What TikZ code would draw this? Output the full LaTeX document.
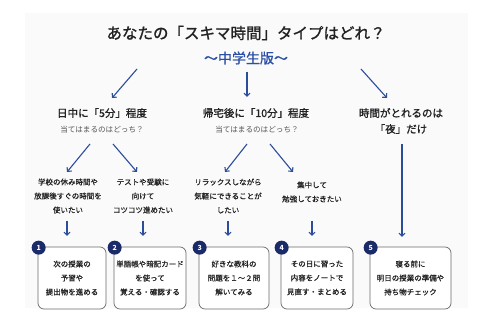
\documentclass[tikz,border=0pt]{standalone}
\usepackage{fontspec}
\setmainfont{Noto Sans CJK JP}
\newfontfamily\medfont[FakeBold=0.7]{Noto Sans CJK JP}
\newfontfamily\semifont[FakeBold=1.3]{Noto Sans CJK JP}
\usetikzlibrary{arrows.meta}
\definecolor{arrowblue}{HTML}{2C4C9C}
\definecolor{subblue}{HTML}{2B4FA6}
\definecolor{navy}{HTML}{1B2A68}
\definecolor{txt}{HTML}{222222}
\definecolor{graytxt}{HTML}{555555}
\definecolor{panelbg}{HTML}{FAFAFA}
\definecolor{boxline}{HTML}{6A6A6A}
\begin{document}
\begin{tikzpicture}[x=1pt,y=-1pt,
  arr/.style={draw=arrowblue, line width=1.1pt, -{Straight Barb[length=3pt,width=6pt]}},
  head/.style={text=txt, font=\semifont\fontsize{10.5}{13}\selectfont, inner sep=0pt},
  subq/.style={text=graytxt, font=\fontsize{7.6}{10}\selectfont, inner sep=0pt},
  opt/.style={text=txt, align=center, font=\medfont\fontsize{7.5}{14}\selectfont, inner sep=0pt},
  resbox/.style={draw=boxline, line width=0.7pt, fill=white, rounded corners=6pt, align=center,
     text=txt, font=\medfont\fontsize{7.5}{14}\selectfont, minimum height=62pt, inner sep=0pt},
  num/.style={circle, fill=navy, text=white, font=\bfseries\fontsize{7}{8}\selectfont, minimum size=14pt, inner sep=0pt}
]
\useasboundingbox (0,0) rectangle (483,323);
\fill[panelbg] (25,13) rectangle (468,308);

% title
\node[text=txt, font=\semifont\fontsize{15.5}{18}\selectfont, inner sep=0pt] (title) at (246,33) {あなたの「スキマ時間」タイプはどれ？};
\node[text=subblue, font=\medfont\fontsize{14}{16}\selectfont, inner sep=0pt] (subtitle) at (246,58) {～中学生版～};

% headings
\node[head] (h1) at (102,113) {日中に「5分」程度};
\node[subq] (q1) at (102,130) {当てはまるのはどっち？};
\node[head] (h2) at (256,113) {帰宅後に「10分」程度};
\node[subq] (q2) at (257,130) {当てはまるのはどっち？};
\node[head] (h3) at (401,113) {時間がとれるのは};
\node[head] (h3b) at (401,129) {「夜」だけ};

% top arrows
\coordinate (t1s) at (137,69); \coordinate (t1e) at (112,98);
\coordinate (t2s) at (247,72); \coordinate (t2e) at (247,97);
\coordinate (t3s) at (361,69); \coordinate (t3e) at (387,98);
\draw[arr] (t1s) -- (t1e);
\draw[arr] (t2s) -- (t2e);
\draw[arr] (t3s) -- (t3e);

% options
\node[opt] (o1) at (68,196) {学校の休み時間や\\放課後すぐの時間を\\使いたい};
\node[opt] (o2) at (143,196) {テストや受験に\\向けて\\コツコツ進めたい};
\node[opt] (o3) at (228,196) {リラックスしながら\\気軽にできることが\\したい};
\node[opt] (o4) at (312,192) {集中して\\勉強しておきたい};

% second-level arrows
\coordinate (m1s) at (90,144); \coordinate (m1e) at (67,172);
\coordinate (m2s) at (113,144); \coordinate (m2e) at (137,172);
\coordinate (m3s) at (247,144); \coordinate (m3e) at (225,172);
\coordinate (m4s) at (270,144); \coordinate (m4e) at (293,172);
\draw[arr] (m1s) -- (m1e);
\draw[arr] (m2s) -- (m2e);
\draw[arr] (m3s) -- (m3e);
\draw[arr] (m4s) -- (m4e);

% boxes
\node[resbox, minimum width=68pt] (b1) at (72,278) {次の授業の\\予習や\\提出物を進める};
\node[resbox, minimum width=72pt] (b2) at (150,278) {単語帳や暗記カード\\を使って\\覚える・確認する};
\node[resbox, minimum width=70pt] (b3) at (234,278) {好きな教科の\\問題を１～２問\\解いてみる};
\node[resbox, minimum width=72pt] (b4) at (317,278) {その日に習った\\内容をノートで\\見直す・まとめる};
\node[resbox, minimum width=81pt] (b5) at (410.5,278) {寝る前に\\明日の授業の準備や\\持ち物チェック};

\node[num] (n1) at ([shift={(1,1)}]b1.north west) {1};
\node[num] (n2) at ([shift={(1,1)}]b2.north west) {2};
\node[num] (n3) at ([shift={(1,1)}]b3.north west) {3};
\node[num] (n4) at ([shift={(1,1)}]b4.north west) {4};
\node[num] (n5) at ([shift={(1,1)}]b5.north west) {5};

% arrows to boxes
\coordinate (d1s) at (67,221); \coordinate (d1e) at (67,236);
\coordinate (d2s) at (143,221); \coordinate (d2e) at (143,236);
\coordinate (d3s) at (228,221); \coordinate (d3e) at (228,236);
\coordinate (d4s) at (312,221); \coordinate (d4e) at (312,236);
\coordinate (d5s) at (402,144); \coordinate (d5e) at (402,237);
\draw[arr] (d1s) -- (d1e);
\draw[arr] (d2s) -- (d2e);
\draw[arr] (d3s) -- (d3e);
\draw[arr] (d4s) -- (d4e);
\draw[arr] (d5s) -- (d5e);
\end{tikzpicture}
\end{document}
